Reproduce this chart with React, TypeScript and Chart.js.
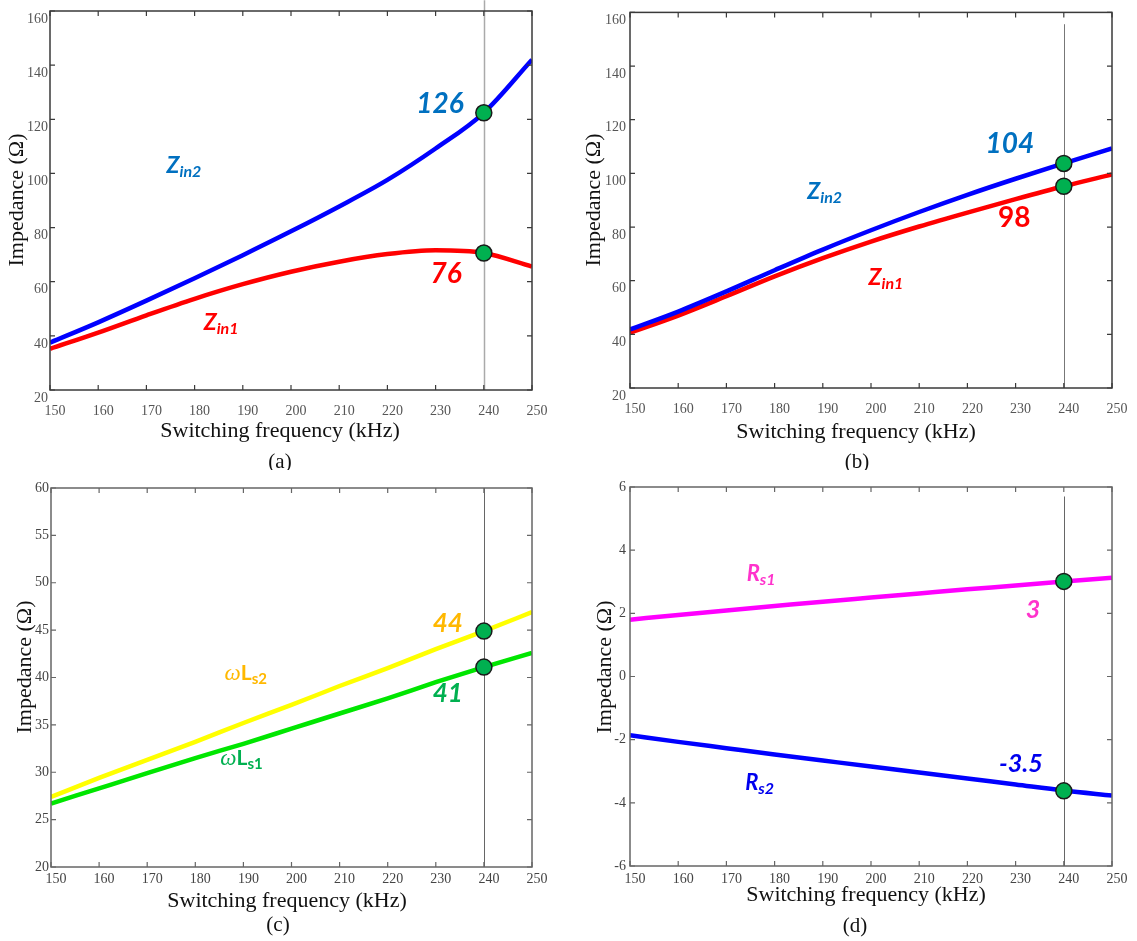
import React, { useEffect, useRef } from "react";
import { Chart, registerables } from "chart.js";

Chart.register(...registerables);

// ---------------- data ----------------
const frequencies = [150, 160, 170, 180, 190, 200, 210, 220, 230, 240, 250];
const xTickValues = [150, 160, 170, 180, 190, 200, 210, 220, 230, 240, 250];
const markerFrequency = 240;

// (a)
const zin2A = [37.5, 45.0, 53.0, 61.3, 69.8, 78.6, 87.8, 97.6, 109.2, 122.4, 142.0];
const zin1A = [35.2, 41.2, 47.6, 53.7, 59.1, 63.7, 67.4, 70.2, 71.6, 70.6, 65.6];
const markersA = [122.4, 70.6];
const yTicksA = [20, 40, 60, 80, 100, 120, 140, 160];

// (b)
const zin2B = [41.8, 48.5, 56.0, 63.9, 71.6, 78.8, 85.6, 92.0, 98.0, 103.7, 109.3];
const zin1B = [40.6, 47.0, 54.2, 61.6, 68.4, 74.6, 80.2, 85.4, 90.4, 95.2, 99.6];
const markersB = [103.7, 95.2];
const yTicksB = [20, 40, 60, 80, 100, 120, 140, 160];

// (c)
const wLs2C = [27.4, 29.4, 31.3, 33.2, 35.2, 37.1, 39.1, 41.0, 43.0, 44.9, 46.9];
const wLs1C = [26.7, 28.3, 29.9, 31.5, 33.0, 34.6, 36.2, 37.8, 39.5, 41.1, 42.6];
const markersC = [44.9, 41.1];
const yTicksC = [20, 25, 30, 35, 40, 45, 50, 55, 60];

// (d)
const rs1D = [1.8, 1.95, 2.09, 2.23, 2.37, 2.5, 2.63, 2.76, 2.88, 3.01, 3.13];
const rs2D = [-1.86, -2.07, -2.27, -2.47, -2.66, -2.85, -3.04, -3.23, -3.42, -3.61, -3.77];
const markersD = [3.01, -3.62];
const yTicksD = [-6, -4, -2, 0, 2, 4, 6];

// ---------------- styles ----------------
const SERIF = '"Liberation Serif", "Times New Roman", serif';
const SANS = 'Lato, "Open Sans", sans-serif';

type Part = { text: string; size: number; italic?: boolean; bold?: boolean; family?: string; dy?: number };
type Note = { x: number; y: number; color: string; parts: Part[] };

interface PanelSpec {
  left: number; top: number; width: number; height: number;
  area: { l: number; t: number; r: number; b: number };
  yTicks: number[];
  series: { values: number[]; color: string }[];
  markers: number[];
  vlineTop: number; vlineColor: string; vlineWidth: number;
  boxColor: string; tickColor: string;
  yLabelOffset: number; xPad: number; yPad: number;
  notes: Note[];
  xTitle: [number, number]; yTitle: [number, number];
  caption: { text: string; x: number; y: number };
}

const sub = (main: string, s: string, size = 23, italic = true): Part[] => [
  { text: main, size, bold: true, italic },
  { text: s, size: 16, bold: true, italic, dy: 4 },
];
const num = (t: string, size = 28, italic = true): Part[] => [{ text: t, size, bold: true, italic }];
const omega = (s: string): Part[] => [
  { text: "ω", size: 23, italic: true, family: SERIF },
  { text: "L", size: 21, bold: true },
  { text: s, size: 15, bold: true, dy: 4 },
];

const BLUE_TXT = "#0070C0";
const RED = "#FF0000";

const panels: PanelSpec[] = [
  {
    left: 0, top: 0, width: 568, height: 470,
    area: { l: 50, t: 11, r: 532, b: 390 },
    yTicks: yTicksA,
    series: [
      { values: zin2A, color: "#0000FF" },
      { values: zin1A, color: RED },
    ],
    markers: markersA,
    vlineTop: 164, vlineColor: "#aaaaaa", vlineWidth: 1.5,
    boxColor: "#3a3a3a", tickColor: "#555",
    yLabelOffset: 8, xPad: 13, yPad: 2,
    notes: [
      { x: 177.8, y: 103.1, color: BLUE_TXT, parts: sub("Z", "in2") },
      { x: 230.9, y: 126.0, color: BLUE_TXT, parts: num("126") },
      { x: 232.2, y: 63.2, color: RED, parts: num("76") },
      { x: 185.5, y: 45.1, color: RED, parts: sub("Z", "in1") },
    ],
    xTitle: [280, 431], yTitle: [17, 200],
    caption: { text: "(a)", x: 280, y: 462 },
  },
  {
    left: 568, top: 0, width: 569, height: 470,
    area: { l: 62, t: 8, r: 544, b: 388 },
    yTicks: yTicksB,
    series: [
      { values: zin2B, color: "#0000FF" },
      { values: zin1B, color: RED },
    ],
    markers: markersB,
    vlineTop: 155.6, vlineColor: "#777", vlineWidth: 1,
    boxColor: "#3a3a3a", tickColor: "#555",
    yLabelOffset: 8, xPad: 13, yPad: 4,
    notes: [
      { x: 228.8, y: 111.4, color: BLUE_TXT, parts: num("104") },
      { x: 190.4, y: 93.7, color: BLUE_TXT, parts: sub("Z", "in2") },
      { x: 229.7, y: 83.7, color: RED, parts: num("98", 28, false) },
      { x: 203.1, y: 61.6, color: RED, parts: sub("Z", "in1") },
    ],
    xTitle: [288, 432], yTitle: [26, 200],
    caption: { text: "(b)", x: 289, y: 462 },
  },
  {
    left: 0, top: 470, width: 568, height: 471,
    area: { l: 51, t: 18, r: 532, b: 397 },
    yTicks: yTicksC,
    series: [
      { values: wLs2C, color: "#FFFF00" },
      { values: wLs1C, color: "#00E600" },
    ],
    markers: markersC,
    vlineTop: 60, vlineColor: "#666", vlineWidth: 1,
    boxColor: "#666", tickColor: "#444",
    yLabelOffset: 0, xPad: 4, yPad: 2,
    notes: [
      { x: 232.5, y: 45.75, color: "#FFB800", parts: num("44", 26) },
      { x: 190.5, y: 40.6, color: "#FFB800", parts: omega("s2") },
      { x: 232.5, y: 38.4, color: "#00B050", parts: num("41", 26) },
      { x: 189.6, y: 31.6, color: "#00B050", parts: omega("s1") },
    ],
    xTitle: [287, 431], yTitle: [25, 197],
    caption: { text: "(c)", x: 278, y: 455 },
  },
  {
    left: 568, top: 470, width: 569, height: 471,
    area: { l: 62, t: 17, r: 544, b: 396 },
    yTicks: yTicksD,
    series: [
      { values: rs1D, color: "#FF00FF" },
      { values: rs2D, color: "#0000FF" },
    ],
    markers: markersD,
    vlineTop: 5.7, vlineColor: "#666", vlineWidth: 1,
    boxColor: "#666", tickColor: "#444",
    yLabelOffset: 0, xPad: 5, yPad: 4,
    notes: [
      { x: 177.2, y: 3.28, color: "#FF33CC", parts: sub("R", "s1", 22) },
      { x: 233.6, y: 2.14, color: "#FF33CC", parts: num("3", 25) },
      { x: 231.1, y: -2.74, color: "#0000EE", parts: num("-3.5", 25) },
      { x: 176.9, y: -3.34, color: "#0000EE", parts: sub("R", "s2", 22) },
    ],
    xTitle: [298, 425], yTitle: [37, 197],
    caption: { text: "(d)", x: 287, y: 456 },
  },
];

function fontOf(p: Part) {
  return `${p.italic ? "italic " : ""}${p.bold ? "bold " : ""}${p.size}px ${p.family || SANS}`;
}

function drawNote(ctx: CanvasRenderingContext2D, cx: number, cy: number, note: Note) {
  ctx.save();
  ctx.fillStyle = note.color;
  ctx.textBaseline = "alphabetic";
  ctx.textAlign = "left";
  let total = 0;
  const widths = note.parts.map((p) => {
    ctx.font = fontOf(p);
    const w = ctx.measureText(p.text).width;
    total += w;
    return w;
  });
  const maxSize = Math.max(...note.parts.map((p) => p.size));
  const base = cy + maxSize * 0.36;
  let x = cx - total / 2;
  note.parts.forEach((p, i) => {
    ctx.font = fontOf(p);
    ctx.fillText(p.text, x, base + (p.dy || 0));
    x += widths[i];
  });
  ctx.restore();
}

function makeDecor(spec: PanelSpec) {
  return {
    id: "decor",
    beforeDatasetsDraw(chart: any) {
      const { ctx, chartArea } = chart;
      const xs = chart.scales.x;
      const ys = chart.scales.y;
      const px = Math.round(xs.getPixelForValue(markerFrequency)) + 0.5;
      ctx.save();
      ctx.strokeStyle = spec.vlineColor;
      ctx.lineWidth = spec.vlineWidth;
      ctx.beginPath();
      ctx.moveTo(px, ys.getPixelForValue(spec.vlineTop));
      ctx.lineTo(px, chartArea.bottom);
      ctx.stroke();
      ctx.restore();
    },
    afterDraw(chart: any) {
      const { ctx, chartArea } = chart;
      const xs = chart.scales.x;
      const ys = chart.scales.y;
      const { left: l, right: r, top: t, bottom: b } = chartArea;
      ctx.save();
      ctx.strokeStyle = spec.boxColor;
      ctx.lineWidth = 1.5;
      ctx.strokeRect(l, t, r - l, b - t);
      ctx.lineWidth = 1.2;
      ctx.beginPath();
      xTickValues.forEach((v) => {
        const p = xs.getPixelForValue(v);
        ctx.moveTo(p, b); ctx.lineTo(p, b - 5);
        ctx.moveTo(p, t); ctx.lineTo(p, t + 5);
      });
      spec.yTicks.forEach((v) => {
        const p = ys.getPixelForValue(v);
        ctx.moveTo(l, p); ctx.lineTo(l + 5, p);
        ctx.moveTo(r, p); ctx.lineTo(r - 5, p);
      });
      ctx.stroke();
      ctx.restore();

      spec.notes.forEach((n) => drawNote(ctx, xs.getPixelForValue(n.x), ys.getPixelForValue(n.y), n));

      ctx.save();
      ctx.fillStyle = "#111";
      ctx.textAlign = "center";
      ctx.textBaseline = "middle";
      ctx.font = `22px ${SERIF}`;
      ctx.fillText("Switching frequency (kHz)", spec.xTitle[0], spec.xTitle[1]);
      ctx.font = `21px ${SERIF}`;
      ctx.fillText(spec.caption.text, spec.caption.x, spec.caption.y);
      ctx.font = `22px ${SERIF}`;
      ctx.translate(spec.yTitle[0], spec.yTitle[1]);
      ctx.rotate(-Math.PI / 2);
      ctx.fillText("Impedance (Ω)", 0, 0);
      ctx.restore();
    },
  };
}

function PanelChart({ spec }: { spec: PanelSpec }) {
  const ref = useRef<HTMLCanvasElement>(null);
  useEffect(() => {
    const canvas = ref.current;
    if (!canvas) return;
    const { area } = spec;
    const datasets: any[] = [
      {
        label: "markers",
        data: spec.markers.map((v) => ({ x: markerFrequency, y: v })),
        showLine: false,
        pointRadius: 8,
        pointBackgroundColor: "#00B050",
        pointBorderColor: "#1a1a1a",
        pointBorderWidth: 1.5,
        order: 0,
      },
      ...spec.series.map((s, i) => ({
        label: "s" + i,
        data: frequencies.map((f, k) => ({ x: f, y: s.values[k] })),
        borderColor: s.color,
        borderWidth: 4.5,
        pointRadius: 0,
        fill: false,
        cubicInterpolationMode: "monotone",
        order: 1 + i,
      })),
    ];
    const tickFont = { family: SERIF, size: 14 };
    const chart = new Chart(canvas, {
      type: "line",
      data: { datasets },
      options: {
        responsive: false,
        animation: false,
        devicePixelRatio: 1,
        layout: { padding: { left: 0, top: area.t, right: spec.width - area.r, bottom: 0 } },
        plugins: { legend: { display: false }, tooltip: { enabled: false }, title: { display: false } },
        scales: {
          x: {
            type: "linear",
            min: xTickValues[0],
            max: xTickValues[xTickValues.length - 1],
            afterBuildTicks: (s: any) => { s.ticks = xTickValues.map((v) => ({ value: v })); },
            afterFit: (s: any) => { s.height = spec.height - area.b; },
            grid: { display: false, drawTicks: false },
            border: { display: false },
            ticks: { padding: spec.xPad, labelOffset: 5, font: tickFont, color: spec.tickColor, autoSkip: false, maxRotation: 0 },
          },
          y: {
            type: "linear",
            min: spec.yTicks[0],
            max: spec.yTicks[spec.yTicks.length - 1],
            afterBuildTicks: (s: any) => { s.ticks = spec.yTicks.map((v) => ({ value: v })); },
            afterFit: (s: any) => { s.width = area.l; },
            grid: { display: false, drawTicks: false },
            border: { display: false },
            ticks: { padding: spec.yPad, labelOffset: spec.yLabelOffset, font: tickFont, color: spec.tickColor, autoSkip: false },
          },
        },
      } as any,
      plugins: [makeDecor(spec)],
    });
    return () => chart.destroy();
  }, [spec]);
  return (
    <canvas
      ref={ref}
      width={spec.width}
      height={spec.height}
      style={{ position: "absolute", left: spec.left, top: spec.top, width: spec.width, height: spec.height }}
    />
  );
}

export default function App() {
  return (
    <div style={{ position: "absolute", left: 0, top: 0, width: 1137, height: 941, background: "#fff", overflow: "hidden" }}>
      {panels.map((p, i) => (
        <PanelChart key={i} spec={p} />
      ))}
    </div>
  );
}
